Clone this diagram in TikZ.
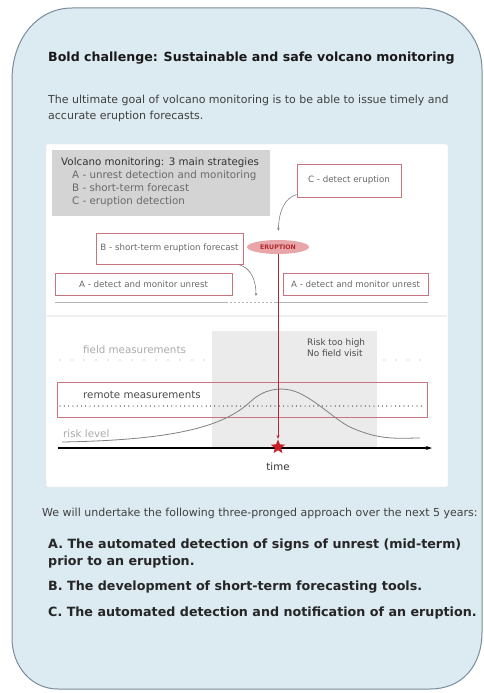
\documentclass[tikz,border=0pt]{standalone}
\usepackage{fontspec}
\setmainfont{DejaVu Sans}
\usetikzlibrary{shapes.geometric,arrows.meta}

\definecolor{bgblue}{RGB}{220,234,241}
\definecolor{framecol}{RGB}{120,140,155}
\definecolor{boxgrey}{RGB}{212,212,212}
\definecolor{boxred}{RGB}{200,115,125}
\definecolor{erupfill}{RGB}{232,166,168}
\definecolor{erupred}{RGB}{175,40,50}
\definecolor{starred}{RGB}{200,30,40}
\definecolor{txtgrey}{RGB}{105,105,105}
\definecolor{lightgrey}{RGB}{170,170,170}
\definecolor{windowgrey}{RGB}{235,235,235}

\tikzset{
  redbox/.style={draw=boxred, fill=white, line width=0.8, inner sep=0pt, text=txtgrey, font=\fontsize{8.7}{10}\selectfont},
  curvearrow/.style={draw=gray, line width=0.6, -{Stealth[length=3pt,width=2.5pt]}},
  bodytext/.style={inner sep=0pt, text=black!75, font=\fontsize{11}{15.5}\selectfont},
  pointtext/.style={inner sep=0pt, text=black!85, font=\bfseries\fontsize{12.7}{17}\selectfont},
}

\begin{document}
\begin{tikzpicture}[x=1pt,y=1pt,yscale=-1,xscale=1]
	\useasboundingbox (0,0) rectangle (483,693);
	
	%Shape: Outer frame
	\draw [color=framecol, fill=bgblue, line width=1]  (72,8) -- (420,8) .. controls (456,8) and (482,36) .. (482,70) -- (482,632) .. controls (482,666) and (462,689) .. (430,689) -- (58,689) .. controls (31,689) and (12,666) .. (12,638) -- (12,80) .. controls (12,38) and (38,8) .. (72,8) -- cycle ;
	
	% Text Node
	\draw (48,58) node [anchor=west][inner sep=0pt, text=black!90, font=\bfseries\fontsize{12.6}{14}\selectfont]  (title) {Bold challenge: Sustainable and safe volcano monitoring};
	% Text Node
	\draw (48,95) node [anchor=north west][bodytext, align=left]  (goal) {The ultimate goal of volcano monitoring is to be able to issue timely and\\accurate eruption forecasts.};
	
	%Shape: Rectangle
	\draw [color=gray!20, fill=white, rounded corners=2] (46,144) rectangle (448,487) ;
	%Straight Lines
	\draw [color=gray!12, line width=2] (47,316) -- (447,316) ;
	%Shape: Rectangle
	\fill [windowgrey] (212,331) rectangle (377,448) ;
	
	%Shape: Rectangle
	\draw (52,150) node [anchor=north west][fill=boxgrey, minimum width=218, minimum height=66, inner sep=0pt] (strat) {};
	% Text Node
	\draw (61,157) node [anchor=north west][inner sep=0pt, align=left, text=txtgrey, font=\fontsize{10.3}{13}\selectfont] (strattext) {{\color{black!80}Volcano monitoring: 3 main strategies}\\\hspace*{11pt}A - unrest detection and monitoring\\\hspace*{11pt}B - short-term forecast\\\hspace*{11pt}C - eruption detection};
	
	% Text Node
	\draw (349,180.5) node [redbox, minimum width=104, minimum height=33] (cdet) {C - detect eruption};
	% Text Node
	\draw (169.5,248.5) node [redbox, minimum width=147, minimum height=31] (bfore) {B - short-term eruption forecast};
	% Text Node
	\draw (143.5,284) node [redbox, minimum width=177, minimum height=22] (aleft) {A - detect and monitor unrest};
	% Text Node
	\draw (355.5,284) node [redbox, minimum width=145, minimum height=22] (aright) {A - detect and monitor unrest};
	% Text Node
	\draw (278,247) node [ellipse, fill=erupfill, minimum width=62, minimum height=14, inner sep=0pt, text=erupred, font=\bfseries\fontsize{6.2}{7}\selectfont] (erupt) {ERUPTION};
	
	%Straight Lines
	\coordinate (u0) at (55,302) ;
	\coordinate (u1) at (226,302) ;
	\coordinate (u2) at (276,302) ;
	\coordinate (u3) at (428,302) ;
	\draw [color=gray!60, line width=0.8] (u0) -- (u1) ;
	\draw [color=gray!60, line width=0.6, dash pattern=on 2pt off 2pt] (u1) -- (u2) ;
	\draw [color=gray!60, line width=0.8] (u2) -- (u3) ;
	
	%Curve Lines
	\draw [curvearrow, shorten >=9pt] (cdet.195) .. controls (285,198) and (279,210) .. (erupt.north) ;
	\coordinate (bend) at (256,296) ;
	\draw [curvearrow] (bfore.-13) .. controls (251,268) and (256,280) .. (bend) ;
	
	% Text Node
	\draw (83,350) node [anchor=west][inner sep=0pt, text=lightgrey, font=\fontsize{10.3}{11}\selectfont] (field) {field measurements};
	\coordinate (f0) at (60,360) ;
	\coordinate (f1) at (212,360) ;
	\coordinate (f2) at (384,360) ;
	\coordinate (f3) at (424,360) ;
	\draw [color=lightgrey, line width=1.4, line cap=round, dash pattern=on 0pt off 12pt] (f0) -- (f1) ;
	\draw [color=lightgrey, line width=1.4, line cap=round, dash pattern=on 0pt off 12pt] (f2) -- (f3) ;
	% Text Node
	\draw (307,339) node [anchor=north west][inner sep=0pt, align=left, text=black!70, font=\fontsize{8.9}{11}\selectfont] (risk) {Risk too high\\No field visit};
	
	%Shape: Rectangle
	\draw (242,399.5) node [draw=boxred, line width=0.8, minimum width=370, minimum height=35, inner sep=0pt] (remote) {};
	% Text Node
	\draw (83,395) node [anchor=west][inner sep=0pt, text=black!70, font=\fontsize{10.3}{11}\selectfont] (remotetext) {remote measurements};
	\coordinate (r0) at (60,406) ;
	\coordinate (r1) at (425,406) ;
	\draw [color=black!85, line width=1.2, line cap=round, dash pattern=on 0pt off 4.3pt] (r0) -- (r1) ;
	
	% Text Node
	\draw (63,434) node [anchor=west][inner sep=0pt, text=lightgrey, font=\fontsize{10.3}{11}\selectfont] (risklevel) {risk level};
	%Curve Lines
	\draw [color=gray, line width=0.8] (62,442) .. controls (180,440) and (225,425) .. (250,402) .. controls (265,388) and (280,388) .. (290,390) .. controls (310,394) and (335,420) .. (350,427) .. controls (380,441) and (400,438) .. (420,438) ;
	
	%Straight Lines
	\coordinate (t0) at (58,448) ;
	\coordinate (t1) at (432,448) ;
	\draw [line width=1.2, -{Stealth[length=6pt,width=4pt]}] (t0) -- (t1) ;
	% Text Node
	\draw (278,467) node [inner sep=0pt, text=black!80, font=\fontsize{10.2}{11}\selectfont] (time) {time};
	
	%Shape: Star
	\draw (278,447) node [star, star points=5, star point ratio=2.3, fill=starred, minimum size=15, inner sep=0pt] (star) {};
	%Straight Lines
	\draw [color=erupred, line width=0.8, -{Stealth[length=4pt,width=3pt]}] (erupt.south) -- (star.north) ;
	
	% Text Node
	\draw (42,513) node [anchor=west][bodytext] (plan) {We will undertake the following three-pronged approach over the next 5 years:};
	% Text Node
	\draw (48,545) node [anchor=west][pointtext] (ptA1) {A. The automated detection of signs of unrest (mid-term)};
	\draw (48,562) node [anchor=west][pointtext] (ptA2) {prior to an eruption.};
	% Text Node
	\draw (48,587) node [anchor=west][pointtext] (ptB) {B. The development of short-term forecasting tools.};
	% Text Node
	\draw (48,613) node [anchor=west][pointtext] (ptC) {C. The automated detection and notification of an eruption.};
	
\end{tikzpicture}
\end{document}
